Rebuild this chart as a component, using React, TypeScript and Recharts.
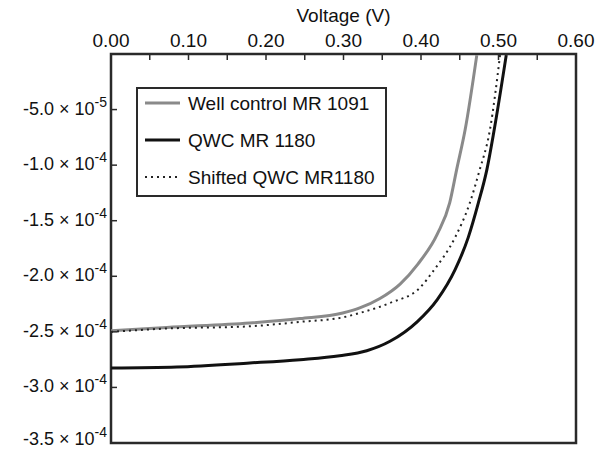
import React from 'react';
import {
  LineChart,
  Line,
  XAxis,
  YAxis,
  ReferenceArea,
  Legend,
} from 'recharts';

// current in A, voltage in V
const wellControl = [
  { v: 0.0, i: -2.49e-4 },
  { v: 0.072, i: -2.46e-4 },
  { v: 0.179, i: -2.42e-4 },
  { v: 0.244, i: -2.38e-4 },
  { v: 0.299, i: -2.33e-4 },
  { v: 0.321, i: -2.285e-4 },
  { v: 0.347, i: -2.2e-4 },
  { v: 0.373, i: -2.07e-4 },
  { v: 0.396, i: -1.89e-4 },
  { v: 0.421, i: -1.62e-4 },
  { v: 0.437, i: -1.34e-4 },
  { v: 0.446, i: -1.04e-4 },
  { v: 0.457, i: -0.68e-4 },
  { v: 0.472, i: -0.01e-4 },
];

const qwc = [
  { v: 0.0, i: -2.825e-4 },
  { v: 0.085, i: -2.816e-4 },
  { v: 0.179, i: -2.78e-4 },
  { v: 0.244, i: -2.75e-4 },
  { v: 0.295, i: -2.715e-4 },
  { v: 0.33, i: -2.67e-4 },
  { v: 0.36, i: -2.585e-4 },
  { v: 0.395, i: -2.41e-4 },
  { v: 0.421, i: -2.21e-4 },
  { v: 0.444, i: -1.94e-4 },
  { v: 0.461, i: -1.65e-4 },
  { v: 0.474, i: -1.34e-4 },
  { v: 0.485, i: -1.04e-4 },
  { v: 0.494, i: -0.7e-4 },
  { v: 0.51, i: -0.01e-4 },
];

const shiftedQwc = [
  { v: 0.0, i: -2.5e-4 },
  { v: 0.072, i: -2.47e-4 },
  { v: 0.179, i: -2.45e-4 },
  { v: 0.244, i: -2.41e-4 },
  { v: 0.299, i: -2.37e-4 },
  { v: 0.321, i: -2.33e-4 },
  { v: 0.36, i: -2.24e-4 },
  { v: 0.399, i: -2.1e-4 },
  { v: 0.415, i: -1.96e-4 },
  { v: 0.444, i: -1.65e-4 },
  { v: 0.463, i: -1.34e-4 },
  { v: 0.475, i: -1.06e-4 },
  { v: 0.489, i: -0.68e-4 },
  { v: 0.502, i: -0.01e-4 },
];

const xTicks = [0, 0.05, 0.1, 0.15, 0.2, 0.25, 0.3, 0.35, 0.4, 0.45, 0.5, 0.55, 0.6];
const yTicks = [-5e-5, -1e-4, -1.5e-4, -2e-4, -2.5e-4, -3e-4, -3.5e-4];

const series = [
  { name: 'Well control MR 1091', color: '#8a8a8a', width: 3, dash: undefined },
  { name: 'QWC MR 1180', color: '#111', width: 3, dash: undefined },
  { name: 'Shifted QWC MR1180', color: '#222', width: 2, dash: '2 4' },
];

const FONT = '"Liberation Sans", Arial, sans-serif';
const FRAME = '#2a2a2a';

const XTick = (props: any) => {
  const { x, y, payload } = props;
  const v = payload.value as number;
  const major = Math.round(v * 100) % 10 === 0;
  return (
    <g>
      <line x1={x} x2={x} y1={y} y2={y + 6} stroke={FRAME} strokeWidth={1.5} />
      {major && (
        <text x={x} y={y - 7} textAnchor="middle" fontSize={19} fontFamily={FONT} fill="#111">
          {v.toFixed(2)}
        </text>
      )}
    </g>
  );
};

const YTick = (props: any) => {
  const { x, y, payload } = props;
  const v = payload.value as number;
  const exp = Math.floor(Math.log10(Math.abs(v)) + 1e-9);
  const mant = (v / Math.pow(10, exp)).toFixed(1);
  // bottom label sits a little higher so it stays on the page
  const base = v <= -3.49e-4 ? y + 2 : y + 5;
  return (
    <g>
      <line x1={x} x2={x + 6} y1={y} y2={y} stroke={FRAME} strokeWidth={1.5} />
      <text x={x - 4} y={base} textAnchor="end" fontSize={18} fontFamily={FONT} fill="#111">
        <tspan>{`${mant} \u00d7 10`}</tspan>
        <tspan dy={-8} fontSize={14}>{`${exp}`}</tspan>
      </text>
    </g>
  );
};

const LegendBox = () => {
  const rows = [16, 53, 90];
  return (
    <svg width={251} height={110} style={{ display: 'block' }}>
      <rect x={1} y={1} width={249} height={108} fill="#fff" stroke={FRAME} strokeWidth={2} />
      {series.map((s, k) => (
        <g key={s.name}>
          <line
            x1={9}
            x2={44}
            y1={rows[k]}
            y2={rows[k]}
            stroke={s.color}
            strokeWidth={s.width}
            strokeDasharray={s.dash}
          />
          <text x={52} y={rows[k] + 7} fontSize={19} fontFamily={FONT} fill="#111">
            {s.name}
          </text>
        </g>
      ))}
    </svg>
  );
};

export default function App() {
  const dataSets = [wellControl, qwc, shiftedQwc];
  return (
    // pull the chart into the body margin so its coordinates match the page
    <div style={{ margin: '-8px 0 0 -8px', width: 610, height: 451 }}>
      <LineChart
        width={610}
        height={451}
        margin={{ top: 0, right: 34, bottom: 8, left: 0 }}
        style={{ fontFamily: FONT }}
      >
        <XAxis
          dataKey="v"
          type="number"
          orientation="top"
          domain={[0, 0.6]}
          ticks={xTicks}
          interval={0}
          height={54}
          tickSize={0}
          tickMargin={0}
          tickLine={false}
          axisLine={false}
          tick={<XTick />}
          allowDataOverflow
          label={{ value: 'Voltage (V)', position: 'insideTop', offset: 9, fontSize: 19, fill: '#111', fontFamily: FONT }}
        />
        <YAxis
          dataKey="i"
          type="number"
          domain={[-3.5e-4, 0]}
          ticks={yTicks}
          interval={0}
          width={111}
          tickSize={0}
          tickMargin={0}
          tickLine={false}
          axisLine={false}
          tick={<YTick />}
          allowDataOverflow
        />
        {series.map((s, k) => (
          <Line
            key={s.name}
            data={dataSets[k]}
            dataKey="i"
            name={s.name}
            type="monotone"
            stroke={s.color}
            strokeWidth={s.width}
            strokeDasharray={s.dash}
            dot={false}
            activeDot={false}
            isAnimationActive={false}
          />
        ))}
        <ReferenceArea
          x1={0}
          x2={0.6}
          y1={-3.5e-4}
          y2={0}
          fill="none"
          fillOpacity={0}
          stroke={FRAME}
          strokeWidth={2.5}
        />
        <Legend
          layout="vertical"
          align="center"
          verticalAlign="middle"
          content={<LegendBox />}
          wrapperStyle={{ left: 136, top: 87, width: 251, height: 110 }}
        />
      </LineChart>
    </div>
  );
}
